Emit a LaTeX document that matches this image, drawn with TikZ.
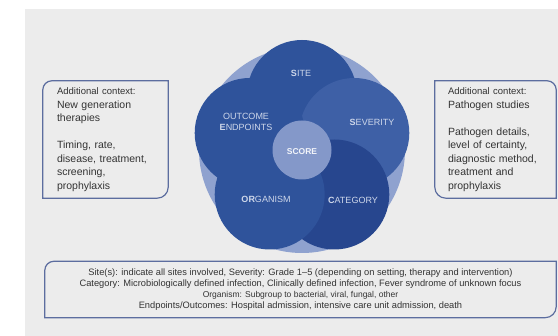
\documentclass[tikz,border=0pt]{standalone}
\usepackage{fontspec}
\setmainfont{Liberation Sans}
\usetikzlibrary{positioning}
\definecolor{panel_gray}{RGB}{236,236,236}
\definecolor{ring_blue}{RGB}{143,162,207}
\definecolor{petal_blue}{RGB}{47,83,155}
\definecolor{sev_blue}{RGB}{62,96,166}
\definecolor{cat_blue}{RGB}{39,70,142}
\definecolor{score_blue}{RGB}{132,152,201}
\definecolor{label_white}{RGB}{206,215,234}
\definecolor{frame_blue}{RGB}{92,109,159}
\definecolor{text_gray}{RGB}{51,51,51}

\begin{document}
\begin{tikzpicture}[
    x=1pt, y=-1pt,
    % Styles
    font=\fontsize{10.5}{13.5}\selectfont,
    petal/.style={
        circle,
        inner sep=0pt,
        minimum size=110pt
    },
    petal_label/.style={
        text=label_white,
        font=\fontsize{9}{11}\selectfont,
        align=center,
        inner sep=0pt
    },
    ctx_box/.style={
        text=text_gray,
        align=left,
        inner sep=0pt,
        minimum height=117pt
    },
    ctx_frame/.style={
        draw=frame_blue,
        line width=1.2pt
    }
]

\useasboundingbox (0,0) rectangle (558,336);
\fill[panel_gray] (25,9) rectangle (558,336);

% --- FLOWER ---

% light ring behind the petals
\node[circle, inner sep=0pt, minimum size=206pt, fill=ring_blue] (ring) at (302,150) {};

% petals (order matters for the overlaps)
\node[petal, fill=petal_blue] (site) at (302,95) {};
\node[petal, fill=sev_blue] (severity) at (354.3,133) {};
\node[petal, fill=cat_blue] (category) at (334.3,194.5) {};
\node[petal, fill=petal_blue] (organism) at (269.7,194.5) {};
\node[petal, fill=petal_blue] (outcome) at (249.7,133) {};

% centre
\node[circle, inner sep=0pt, minimum size=59pt, fill=score_blue] (score) at (302,150) {};

% petal labels
\node[petal_label] (site_lbl) at (301,73) {\textbf{S}ITE};
\node[petal_label] (severity_lbl) at (372,122) {\textbf{S}EVERITY};
\node[petal_label] (category_lbl) at (353,200) {\textbf{C}ATEGORY};
\node[petal_label] (organism_lbl) at (266,199) {\textbf{OR}GANISM};
\node[petal_label] (outcome_lbl) at (246,121.5) {OUTCOME\\\textbf{E}NDPOINTS};
\node[petal_label, text=white!90!score_blue, font=\bfseries\fontsize{8.5}{10}\selectfont] (score_lbl) at (302,151.5) {SCORE};

% --- CONTEXT BOXES ---

% Left: therapies
\node[ctx_box, minimum width=125pt, text width=97pt] (ctx_left) at (105.5,139.5) {
    {\fontsize{9.5}{13.5}\selectfont Additional context:}\\
    New generation\\
    therapies\\[13.5pt]
    Timing, rate,\\
    disease, treatment,\\
    screening,\\
    prophylaxis
};
\draw[ctx_frame] (ctx_left.south west) -- ([yshift=-9pt]ctx_left.north west)
    arc[start angle=180, end angle=90, radius=9pt] -- (ctx_left.north east)
    -- ([yshift=11pt]ctx_left.south east)
    arc[start angle=0, end angle=-90, radius=11pt] -- cycle;

% Right: pathogens
\node[ctx_box, minimum width=121pt, text width=95pt] (ctx_right) at (495.5,139.5) {
    {\fontsize{9.5}{13.5}\selectfont Additional context:}\\
    Pathogen studies\\[13.5pt]
    Pathogen details,\\
    level of certainty,\\
    diagnostic method,\\
    treatment and\\
    prophylaxis
};
\draw[ctx_frame] (ctx_right.north west) -- ([xshift=-9pt]ctx_right.north east)
    arc[start angle=90, end angle=0, radius=9pt] -- (ctx_right.south east)
    -- ([xshift=11pt]ctx_right.south west)
    arc[start angle=270, end angle=180, radius=11pt] -- cycle;

% Bottom: definitions
\node[text=text_gray, align=center, inner sep=0pt, minimum width=511pt, minimum height=56pt,
      font=\fontsize{9.3}{11}\selectfont] (defs) at (300.5,289.5) {
    Site(s): indicate all sites involved, Severity: Grade 1--5 (depending on setting, therapy and intervention)\\
    Category: Microbiologically defined infection, Clinically defined infection, Fever syndrome of unknown focus\\
    {\fontsize{8.5}{11}\selectfont Organism: Subgroup to bacterial, viral, fungal, other}\\
    Endpoints/Outcomes: Hospital admission, intensive care unit admission, death
};
\draw[ctx_frame] (defs.south west) -- ([yshift=-9pt]defs.north west)
    arc[start angle=180, end angle=90, radius=9pt] -- (defs.north east)
    -- ([yshift=11pt]defs.south east)
    arc[start angle=0, end angle=-90, radius=11pt] -- cycle;

\end{tikzpicture}
\end{document}
